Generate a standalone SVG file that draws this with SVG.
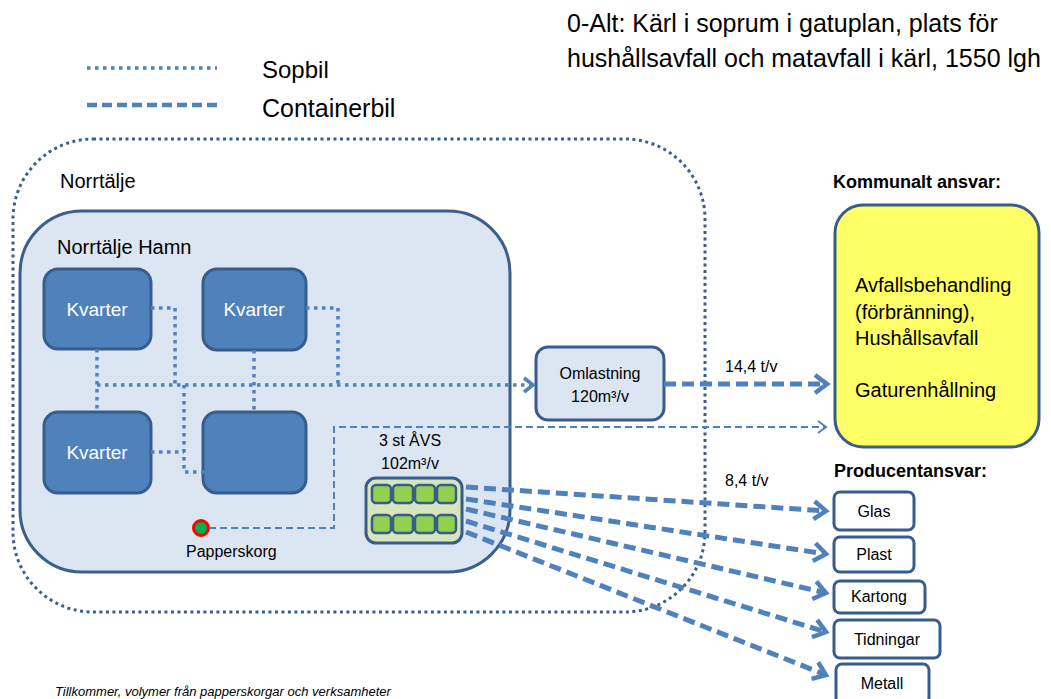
<svg xmlns="http://www.w3.org/2000/svg" width="1051" height="699" viewBox="0 0 1051 699">
<style>
text{font-family:"Liberation Sans",Arial,sans-serif;fill:#000}
.t24{font-size:24px}
.t25{font-size:25px}
.t20{font-size:20px}
.t16{font-size:16px}
.bold{font-size:18px;font-weight:bold}
.kv{fill:#4F81BD;stroke:#385D8A;stroke-width:3}
.kvt{font-size:19px;fill:#fff;text-anchor:middle}
.prod{fill:#fff;stroke:#385D8A;stroke-width:3}
.pt{font-size:16px;text-anchor:middle}
.sq{fill:#92D050;stroke:#385D8A;stroke-width:2.5}
.dot{fill:none;stroke:#4F81BD;stroke-width:3.5;stroke-dasharray:3.5 4.5}
.thin{fill:none;stroke:#4F81BD;stroke-width:2;stroke-dasharray:7 4}
.thick{fill:none;stroke:#4F81BD;stroke-width:5;stroke-dasharray:12 6}
</style>
<defs>
<marker id="aThin" markerUnits="userSpaceOnUse" markerWidth="14" markerHeight="14" refX="10" refY="7" orient="auto" overflow="visible">
<path d="M2,1 L10,7 L2,13" fill="none" stroke="#4F81BD" stroke-width="2"/>
</marker>
<marker id="aDot" markerUnits="userSpaceOnUse" markerWidth="14" markerHeight="16" refX="11" refY="8" orient="auto" overflow="visible">
<path d="M2,1 L11,8 L2,15" fill="none" stroke="#4F81BD" stroke-width="3.5"/>
</marker>
<marker id="aThick" markerUnits="userSpaceOnUse" markerWidth="20" markerHeight="22" refX="14" refY="11" orient="auto" overflow="visible">
<path d="M2,2 L14,11 L2,20" fill="none" stroke="#4F81BD" stroke-width="4.5"/>
</marker>
</defs>

<g id="title">
<text class="t25" x="567" y="32">0-Alt: Kärl i soprum i gatuplan, plats för</text>
<text class="t25" x="567" y="67">hushållsavfall och matavfall i kärl, 1550 lgh</text>
</g>

<g id="legend">
<line x1="87" y1="68" x2="217" y2="68" class="dot" stroke-width="4"/>
<text class="t24" x="262" y="78">Sopbil</text>
<line x1="87" y1="105" x2="217" y2="105" fill="none" stroke="#4F81BD" stroke-width="4.5" stroke-dasharray="10 5"/>
<text class="t25" x="262" y="117">Containerbil</text>
</g>

<g id="norrtalje">
<rect x="13" y="139" width="692" height="473" rx="80" fill="none" stroke="#3A5F8F" stroke-width="3" stroke-dasharray="3 3.5"/>
<text class="t20" x="60" y="188">Norrtälje</text>
</g>

<g id="hamn">
<rect x="20" y="211" width="490" height="361" rx="62" fill="#DCE6F2" stroke="#3A5F8B" stroke-width="3"/>
<text class="t20" x="57" y="254">Norrtälje Hamn</text>
</g>

<g id="kvarter1">
<rect class="kv" x="44" y="269" width="107" height="80" rx="14"/>
<text class="kvt" x="97" y="316">Kvarter</text>
</g>
<g id="kvarter2">
<rect class="kv" x="203" y="269" width="103" height="81" rx="14"/>
<text class="kvt" x="254" y="316">Kvarter</text>
</g>
<g id="kvarter3">
<rect class="kv" x="44" y="412" width="107" height="81" rx="14"/>
<text class="kvt" x="97" y="459">Kvarter</text>
</g>
<g id="kvarter4">
<rect class="kv" x="203" y="412" width="103" height="81" rx="14"/>
</g>

<g id="papperskorg">
<circle cx="201" cy="528" r="7.5" fill="#00B050" stroke="#FF0000" stroke-width="3"/>
<text class="t16" x="186" y="557">Papperskorg</text>
</g>

<g id="avs">
<text class="t16" x="410" y="446" text-anchor="middle">3 st ÅVS</text>
<text class="t16" x="410" y="469" text-anchor="middle">102m³/v</text>
<rect x="366" y="478" width="96" height="65" rx="10" fill="#D7E4BD" stroke="#385D8A" stroke-width="3"/>
<rect class="sq" x="372" y="485" width="19" height="18" rx="4"/>
<rect class="sq" x="393" y="485" width="20" height="18" rx="4"/>
<rect class="sq" x="415" y="485" width="20" height="18" rx="4"/>
<rect class="sq" x="437" y="485" width="19" height="18" rx="4"/>
<rect class="sq" x="372" y="515" width="19" height="18" rx="4"/>
<rect class="sq" x="393" y="515" width="20" height="18" rx="4"/>
<rect class="sq" x="415" y="515" width="20" height="18" rx="4"/>
<rect class="sq" x="437" y="515" width="19" height="18" rx="4"/>
</g>

<g id="omlastning">
<rect x="536" y="347" width="128" height="73" rx="12" fill="#DCE6F2" stroke="#385D8A" stroke-width="3"/>
<text class="t16" x="600" y="379" text-anchor="middle">Omlastning</text>
<text class="t16" x="600" y="402" text-anchor="middle">120m³/v</text>
</g>

<g id="kommunalt">
<text class="bold" x="833" y="188">Kommunalt ansvar:</text>
<rect x="835" y="205" width="204" height="242" rx="28" fill="#FFFF66" stroke="#385D8A" stroke-width="3"/>
<text class="t20" x="855" y="292">Avfallsbehandling</text>
<text class="t20" x="855" y="319">(förbränning),</text>
<text class="t20" x="855" y="345">Hushållsavfall</text>
<text class="t20" x="855" y="397">Gaturenhållning</text>
</g>

<g id="producent">
<text class="bold" x="834" y="477">Producentansvar:</text>
</g>
<g id="glas">
<rect class="prod" x="834" y="492" width="80" height="38" rx="6"/>
<text class="pt" x="874" y="517">Glas</text>
</g>
<g id="plast">
<rect class="prod" x="834" y="537" width="80" height="35" rx="6"/>
<text class="pt" x="874" y="560">Plast</text>
</g>
<g id="kartong">
<rect class="prod" x="834" y="581" width="91" height="32" rx="6"/>
<text class="pt" x="879" y="602">Kartong</text>
</g>
<g id="tidningar">
<rect class="prod" x="834" y="620" width="106" height="38" rx="6"/>
<text class="pt" x="887" y="645">Tidningar</text>
</g>
<g id="metall">
<rect class="prod" x="836" y="664" width="93" height="40" rx="6"/>
<text class="pt" x="882" y="689">Metall</text>
</g>

<g id="connectors">
<path class="dot" d="M151,308 H175 V385"/>
<path class="dot" d="M97,349 V412"/>
<path class="dot" d="M306,308 H338 V385"/>
<path class="dot" d="M254,350 V412"/>
<path class="dot" d="M151,452 H184"/>
<path class="dot" d="M184,385 V472 H213"/>
<path class="dot" d="M97,385 H533" marker-end="url(#aDot)"/>
<path class="thin" d="M209,528 H334 V427 H826" marker-end="url(#aThin)"/>
<path class="thick" d="M664,384 H827" marker-end="url(#aThick)"/>
<path class="thick" d="M466,487 L826,511" marker-end="url(#aThick)"/>
<path class="thick" d="M466,499 L826,554" marker-end="url(#aThick)"/>
<path class="thick" d="M466,509 L826,593" marker-end="url(#aThick)"/>
<path class="thick" d="M466,521 L826,632" marker-end="url(#aThick)"/>
<path class="thick" d="M466,532 L826,675" marker-end="url(#aThick)"/>
</g>

<g id="labels">
<text class="t16" x="725" y="372">14,4 t/v</text>
<text class="t16" x="725" y="486">8,4 t/v</text>
<text x="55" y="696" font-size="13" font-style="italic">Tillkommer, volymer från papperskorgar och verksamheter</text>
</g>
</svg>
